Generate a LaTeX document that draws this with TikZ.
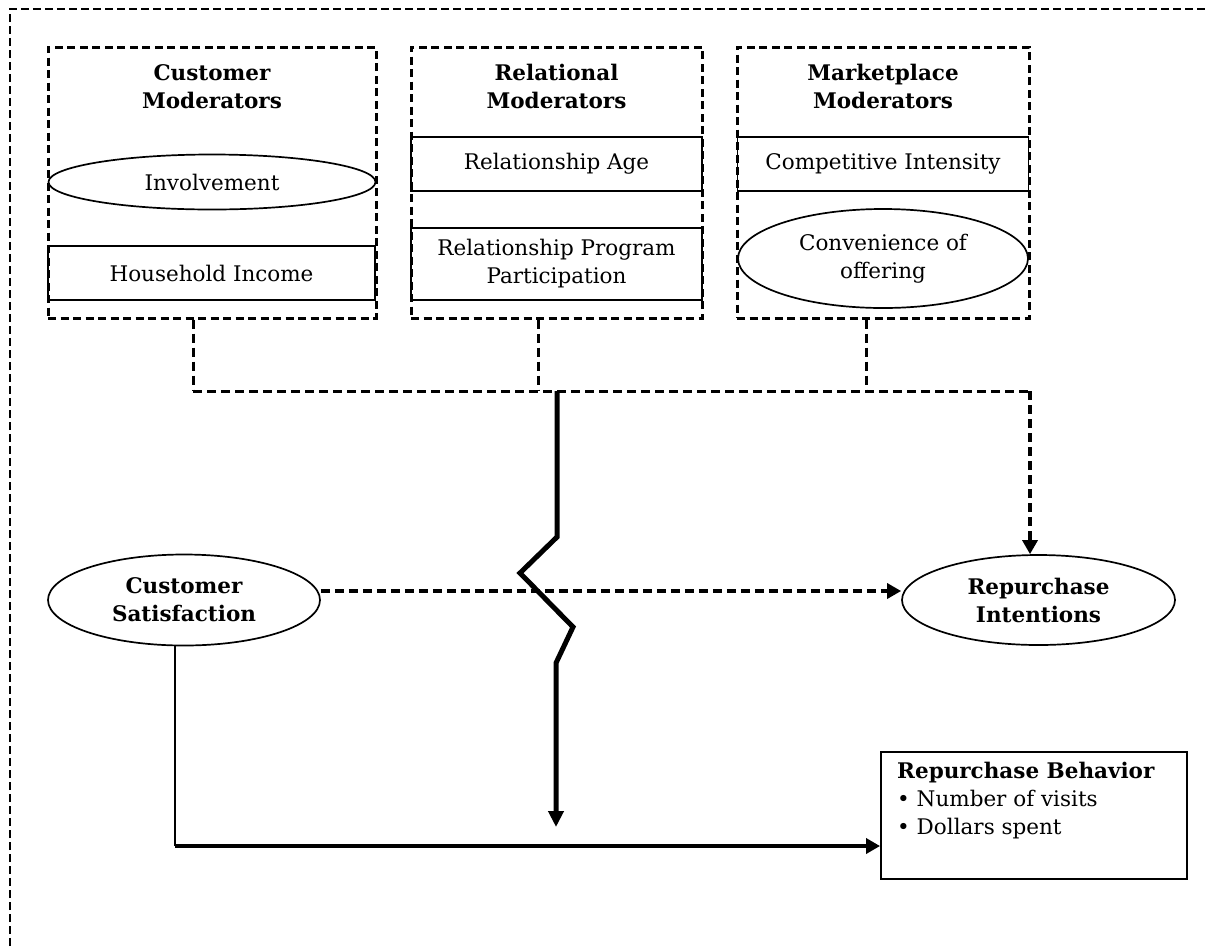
\documentclass[tikz,border=0pt]{standalone}
\usepackage{fontspec}
\setmainfont{DejaVu Serif}
\usetikzlibrary{shapes.geometric,arrows.meta,calc}
\begin{document}
\begin{tikzpicture}[x=1pt,y=-1pt,
  font=\fontsize{21.5}{28}\selectfont,
  modbox/.style={draw, line width=3pt, dash pattern=on 8pt off 4.5pt, inner sep=0pt},
  itembox/.style={draw, line width=1.8pt, inner sep=0pt, align=center},
  oval/.style={ellipse, draw, line width=1.7pt, inner sep=0pt, align=center},
  ttl/.style={align=center, font=\fontsize{21.5}{28}\selectfont\bfseries},
  dcon/.style={line width=3pt, dash pattern=on 9pt off 5pt},
  darr/.style={line width=3.3pt, dash pattern=on 9pt off 5pt, -{Triangle[length=14pt,width=15pt]}},
  tharr/.style={line width=5pt, -{Triangle[length=16pt,width=15pt]}},
  hharr/.style={line width=4.2pt, -{Triangle[length=14pt,width=15pt]}},
  outer/.style={line width=2pt, dash pattern=on 8pt off 4pt}
]
\useasboundingbox (0,0) rectangle (1206,946);
\fill[white] (0,0) rectangle (1206,946);
% outer frame
\coordinate (o1) at (10,946);
\coordinate (o2) at (10,9);
\coordinate (o3) at (1206,9);
\draw[outer] (o1) -- (o2) -- (o3);

% moderator boxes
\node[modbox, minimum width=328pt, minimum height=271pt] (cm) at (212,182.5) {};
\node[modbox, minimum width=291pt, minimum height=271pt] (rm) at (556.5,182.5) {};
\node[modbox, minimum width=292pt, minimum height=271pt] (mm) at (883,182.5) {};

\node[ttl] (cmt) at (212,86.5) {Customer\\Moderators};
\node[ttl] (rmt) at (556.5,86.5) {Relational\\Moderators};
\node[ttl] (mmt) at (883,86.5) {Marketplace\\Moderators};

\node[oval, minimum width=327pt, minimum height=55pt] (inv) at (212,182) {Involvement};
\node[itembox, minimum width=327pt, minimum height=54pt] (hi) at (211.5,273) {Household Income};

\node[itembox, minimum width=291pt, minimum height=54pt] (ra) at (556.5,164) {Relationship Age};
\node[itembox, minimum width=291pt, minimum height=72pt] (rp) at (556.5,264) {Relationship Program\\Participation};

\node[itembox, minimum width=291pt, minimum height=54pt] (ci) at (883,164) {Competitive Intensity};
\node[oval, minimum width=290pt, minimum height=99pt] (co) at (883,258.5) {Convenience of\\offering};

% outcome nodes
\node[oval, minimum width=272pt, minimum height=91pt, font=\fontsize{21.5}{28}\selectfont\bfseries] (cs) at (184,600) {Customer\\Satisfaction};
\node[oval, minimum width=273pt, minimum height=90pt, font=\fontsize{21.5}{28}\selectfont\bfseries] (ri) at (1038.5,600) {Repurchase\\Intentions};
\node[draw, line width=1.9pt, minimum width=306pt, minimum height=127pt, inner sep=0pt] (rb) at (1034,815.5) {};
\node[anchor=north west, align=left, inner sep=0pt] (rbt) at (897,762) {\textbf{Repurchase Behavior}\\• Number of visits\\• Dollars spent};

% moderator connectors
\coordinate (j1) at (193,391);
\coordinate (j2) at (538,391);
\coordinate (j3) at (866,391);
\coordinate (j4) at (1030,391);
\draw[dcon] (cm.south -| j1) -- (j1);
\draw[dcon] (rm.south -| j2) -- (j2);
\draw[dcon] (mm.south -| j3) -- (j3);
\draw[dcon] (j1) -- (j4);
\draw[darr] (j4) -- (j4 |- ri.north);

% moderation (broken) arrow
\coordinate (z0) at (557,391);
\coordinate (z1) at (557,537);
\coordinate (z2) at (520,573);
\coordinate (z3) at (573,627);
\coordinate (z4) at (556,663);
\coordinate (z5) at (556,827);
\draw[tharr, line join=miter] (z0) -- (z1) -- (z2) -- (z3) -- (z4) -- (z5);

% satisfaction -> intentions
\draw[darr] ([yshift=9pt]cs.east) -- ([yshift=9pt]ri.west);

% satisfaction -> behavior
\coordinate (c1) at (175,846);
\draw[line width=1.9pt] (c1 |- cs.south) -- (c1);
\draw[hharr] (c1) -- (rb.west |- c1);
\end{tikzpicture}
\end{document}
